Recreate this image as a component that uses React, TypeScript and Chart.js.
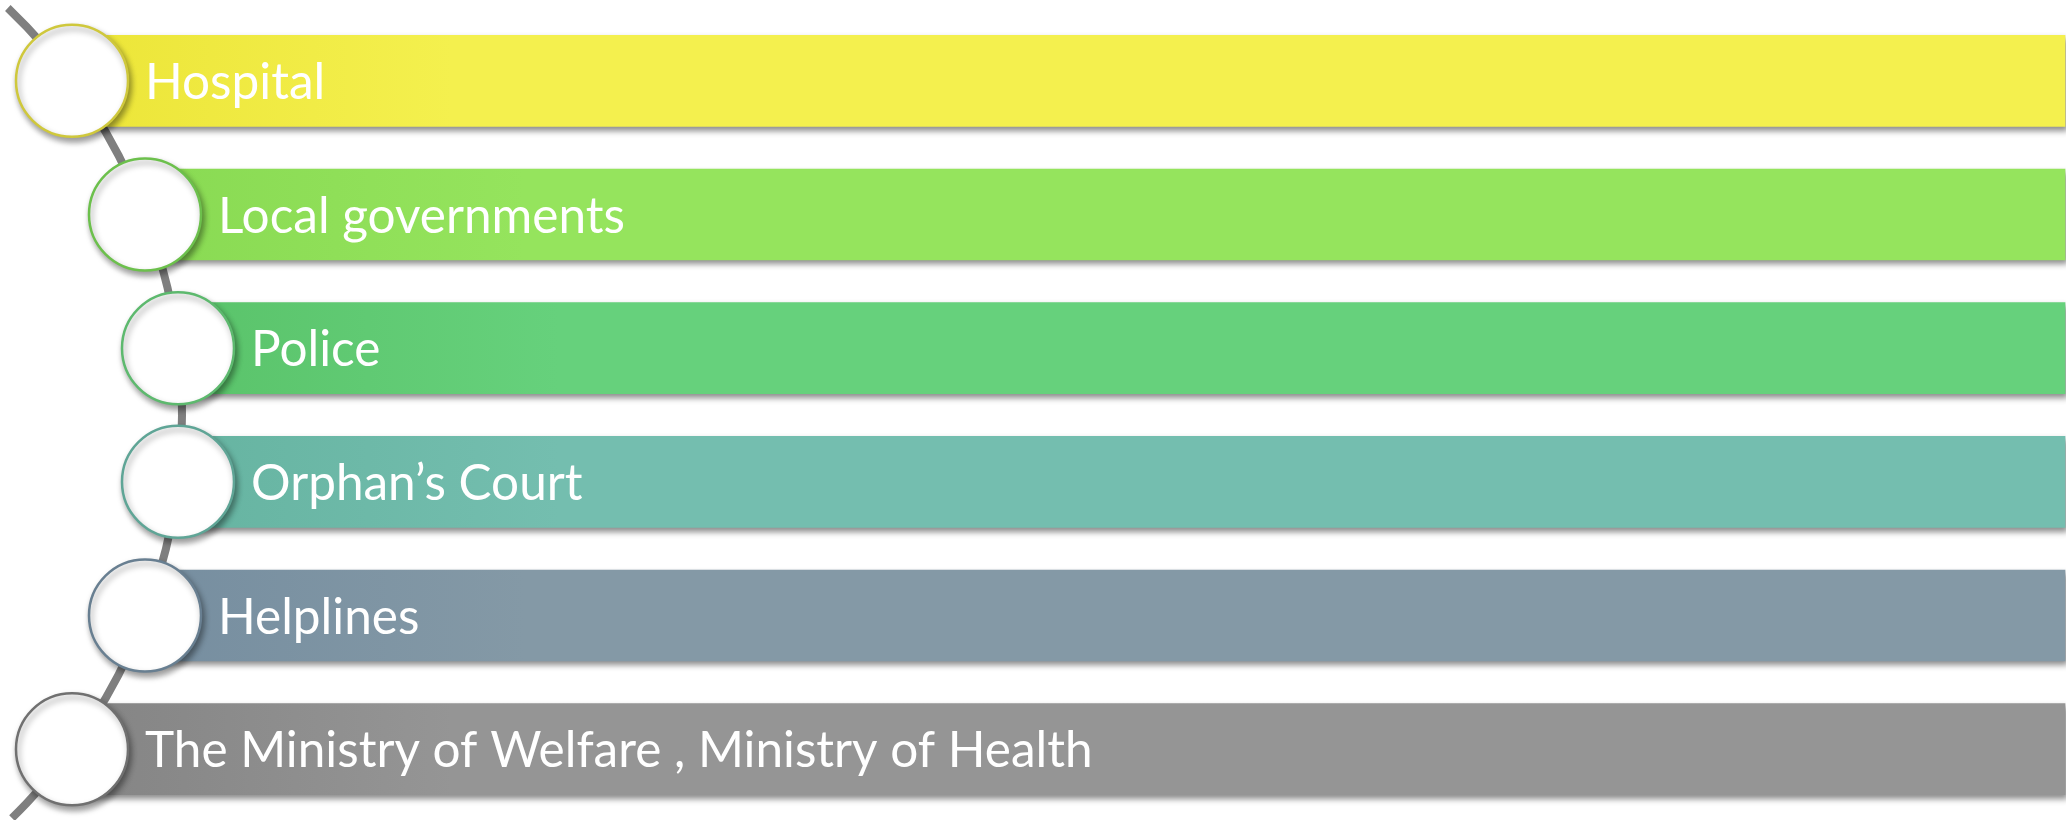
import React, { useEffect, useRef } from "react";
import { Chart, registerables } from "chart.js";

Chart.register(...registerables);

const categories = [
  "Hospital",
  "Local governments",
  "Police",
  "Orphan\u2019s Court",
  "Helplines",
  "The Ministry of Welfare , Ministry of Health",
];
const barStart = [72, 145, 178, 178, 145, 72];
const barEnd = [2065, 2065, 2065, 2065, 2065, 2065];
const circleX = [72, 145, 178, 178, 145, 72];
const colorsLeft = ["#ECE538", "#89DA53", "#5AC36A", "#66B4A1", "#768EA0", "#848484"];
const colorsRight = ["#F4F04E", "#95E45D", "#66D17C", "#74BEAF", "#8499A6", "#959595"];
const circleBorders = ["#CFC83C", "#6CC04C", "#5DB96E", "#5FA596", "#687F91", "#707070"];

export default function App() {
  const ref = useRef<HTMLCanvasElement>(null);
  useEffect(() => {
    const canvas = ref.current!;
    const arcPlugin = {
      id: "arcPlugin",
      beforeDatasetsDraw(chart: any) {
        const meta = chart.getDatasetMeta(1);
        const pts = [meta.data[0], meta.data[2], meta.data[5]];
        const [a, b, c] = pts.map((p: any) => ({ x: p.x, y: p.y }));
        const d = 2 * (a.x * (b.y - c.y) + b.x * (c.y - a.y) + c.x * (a.y - b.y));
        const ux =
          ((a.x * a.x + a.y * a.y) * (b.y - c.y) +
            (b.x * b.x + b.y * b.y) * (c.y - a.y) +
            (c.x * c.x + c.y * c.y) * (a.y - b.y)) / d;
        const uy =
          ((a.x * a.x + a.y * a.y) * (c.x - b.x) +
            (b.x * b.x + b.y * b.y) * (a.x - c.x) +
            (c.x * c.x + c.y * c.y) * (b.x - a.x)) / d;
        const R = Math.hypot(a.x - ux, a.y - uy);
        const top = 8;
        const bottom = chart.height - 2;
        const aTop = Math.asin(Math.max(-1, (top - uy) / R));
        const aBot = Math.asin(Math.min(1, (bottom - uy) / R));
        const ctx = chart.ctx;
        ctx.save();
        ctx.beginPath();
        ctx.arc(ux, uy, R, aTop, aBot, false);
        ctx.strokeStyle = "#7F7F7F";
        ctx.lineWidth = 8;
        ctx.lineCap = "butt";
        ctx.stroke();
        ctx.restore();
      },
      beforeDatasetDraw(chart: any, args: any) {
        const ctx = chart.ctx;
        ctx.save();
        if (args.index === 0) {
          ctx.shadowColor = "rgba(0,0,0,0.45)";
          ctx.shadowBlur = 6;
          ctx.shadowOffsetX = 3;
          ctx.shadowOffsetY = 4;
        } else {
          ctx.shadowColor = "rgba(0,0,0,0.4)";
          ctx.shadowBlur = 6;
          ctx.shadowOffsetX = 2;
          ctx.shadowOffsetY = 4;
        }
      },
      afterDatasetDraw(chart: any) {
        chart.ctx.restore();
      },
      afterDatasetsDraw(chart: any) {
        const ctx = chart.ctx;
        const meta = chart.getDatasetMeta(1);
        ctx.save();
        ctx.fillStyle = "#FFFFFF";
        ctx.font = "49.5px Lato, 'Open Sans', sans-serif";
        ctx.textBaseline = "alphabetic";
        ctx.textAlign = "left";
        categories.forEach((label, i) => {
          const p = meta.data[i];
          ctx.fillText(label, p.x + 73, p.y + 18);
        });
        ctx.restore();
      },
    };

    const chart = new Chart(canvas, {
      type: "bar",
      data: {
        labels: categories,
        datasets: [
          {
            type: "bar",
            indexAxis: "y",
            data: categories.map((_, i) => [barStart[i], barEnd[i]]),
            backgroundColor: (c: any) => {
              const ch = c.chart;
              const i = c.dataIndex;
              if (i === undefined || !ch.chartArea) return colorsRight[0];
              const x0 = ch.scales.x.getPixelForValue(barStart[i]);
              const g = ch.ctx.createLinearGradient(x0, 0, x0 + 380, 0);
              g.addColorStop(0, colorsLeft[i]);
              g.addColorStop(1, colorsRight[i]);
              return g;
            },
            borderWidth: 0,
            borderSkipped: false,
            barThickness: 91,
            order: 2,
          } as any,
          {
            type: "scatter",
            data: categories.map((cat, i) => ({ x: circleX[i], y: cat })),
            pointRadius: 56,
            pointHoverRadius: 56,
            pointBackgroundColor: "#FFFFFF",
            pointBorderColor: circleBorders,
            pointBorderWidth: 2.5,
            clip: false,
            order: 1,
          } as any,
        ],
      },
      options: {
        responsive: false,
        animation: false,
        indexAxis: "y",
        layout: { autoPadding: false, padding: { top: 14, bottom: 4, left: 0, right: 0 } },
        scales: {
          x: { type: "linear", min: 0, max: 2066, display: false },
          y: { type: "category", display: false, offset: true },
        },
        plugins: {
          legend: { display: false },
          tooltip: { enabled: false },
        },
        events: [],
      },
      plugins: [arcPlugin],
    } as any);
    return () => chart.destroy();
  }, []);

  return (
    <div style={{ position: "fixed", left: 0, top: 0, width: 2066, height: 820, background: "#FFFFFF" }}>
      <canvas ref={ref} width={2066} height={820} style={{ display: "block" }} />
    </div>
  );
}
